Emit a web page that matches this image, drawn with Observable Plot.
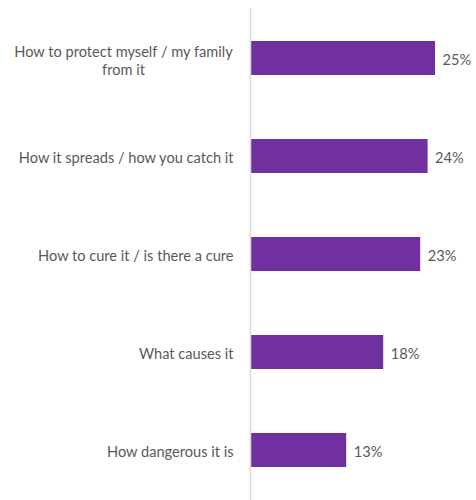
<!DOCTYPE html>
<html><head><meta charset="utf-8">
<script src="https://cdn.jsdelivr.net/npm/d3@7"></script>
<script src="https://cdn.jsdelivr.net/npm/@observablehq/plot@0.6"></script>
<style>
html,body{margin:0;padding:0;background:#fff;}
#chart svg{display:block;}
</style>
</head><body><div id="chart"></div>
<script>
const categories = [
  "How to protect myself / my family from it",
  "How it spreads / how you catch it",
  "How to cure it / is there a cure",
  "What causes it",
  "How dangerous it is"
];
const categoryLines = [
  "How to protect myself / my family\nfrom it",
  "How it spreads / how you catch it",
  "How to cure it / is there a cure",
  "What causes it",
  "How dangerous it is"
];
const values = [25, 24, 23, 18, 13];
const valueLabels = ["25%", "24%", "23%", "18%", "13%"];

const data = categories.map((c, i) => ({category: c, shown: categoryLines[i], value: values[i], label: valueLabels[i]}));
const wrapped = data.filter(d => d.shown.includes("\n"));
const single = data.filter(d => !d.shown.includes("\n"));

const font = "Lato, 'Open Sans', sans-serif";
const textColor = "#595959";
const fs = 14.6;

const chart = Plot.plot({
  width: 476,
  height: 500,
  marginLeft: 250,
  marginRight: 4,
  marginTop: 8,
  marginBottom: 0,
  style: {fontFamily: font, background: "#fff"},
  x: {domain: [0, 30], axis: null},
  y: {domain: categories, axis: null, paddingInner: 0.65, paddingOuter: 0.33},
  marks: [
    Plot.barX(data, {x: "value", y: "category", fill: "#7030A0"}),
    Plot.ruleX([0], {stroke: "#d9d9d9", strokeWidth: 1.5}),
    Plot.text(data, {x: "value", y: "category", text: "label", textAnchor: "start", dx: 7, dy: 2, fill: textColor, fontSize: fs, fontFamily: font}),
    Plot.text(single, {x: 0, y: "category", text: "shown", textAnchor: "end", dx: -17, dy: 2, fill: textColor, fontSize: fs, fontFamily: font}),
    Plot.text(wrapped, {x: 0, y: "category", text: "shown", textAnchor: "middle", dx: -127, dy: 2, lineHeight: 1.2, fill: textColor, fontSize: fs, fontFamily: font})
  ]
});
document.getElementById("chart").append(chart);
</script>
</body></html>
